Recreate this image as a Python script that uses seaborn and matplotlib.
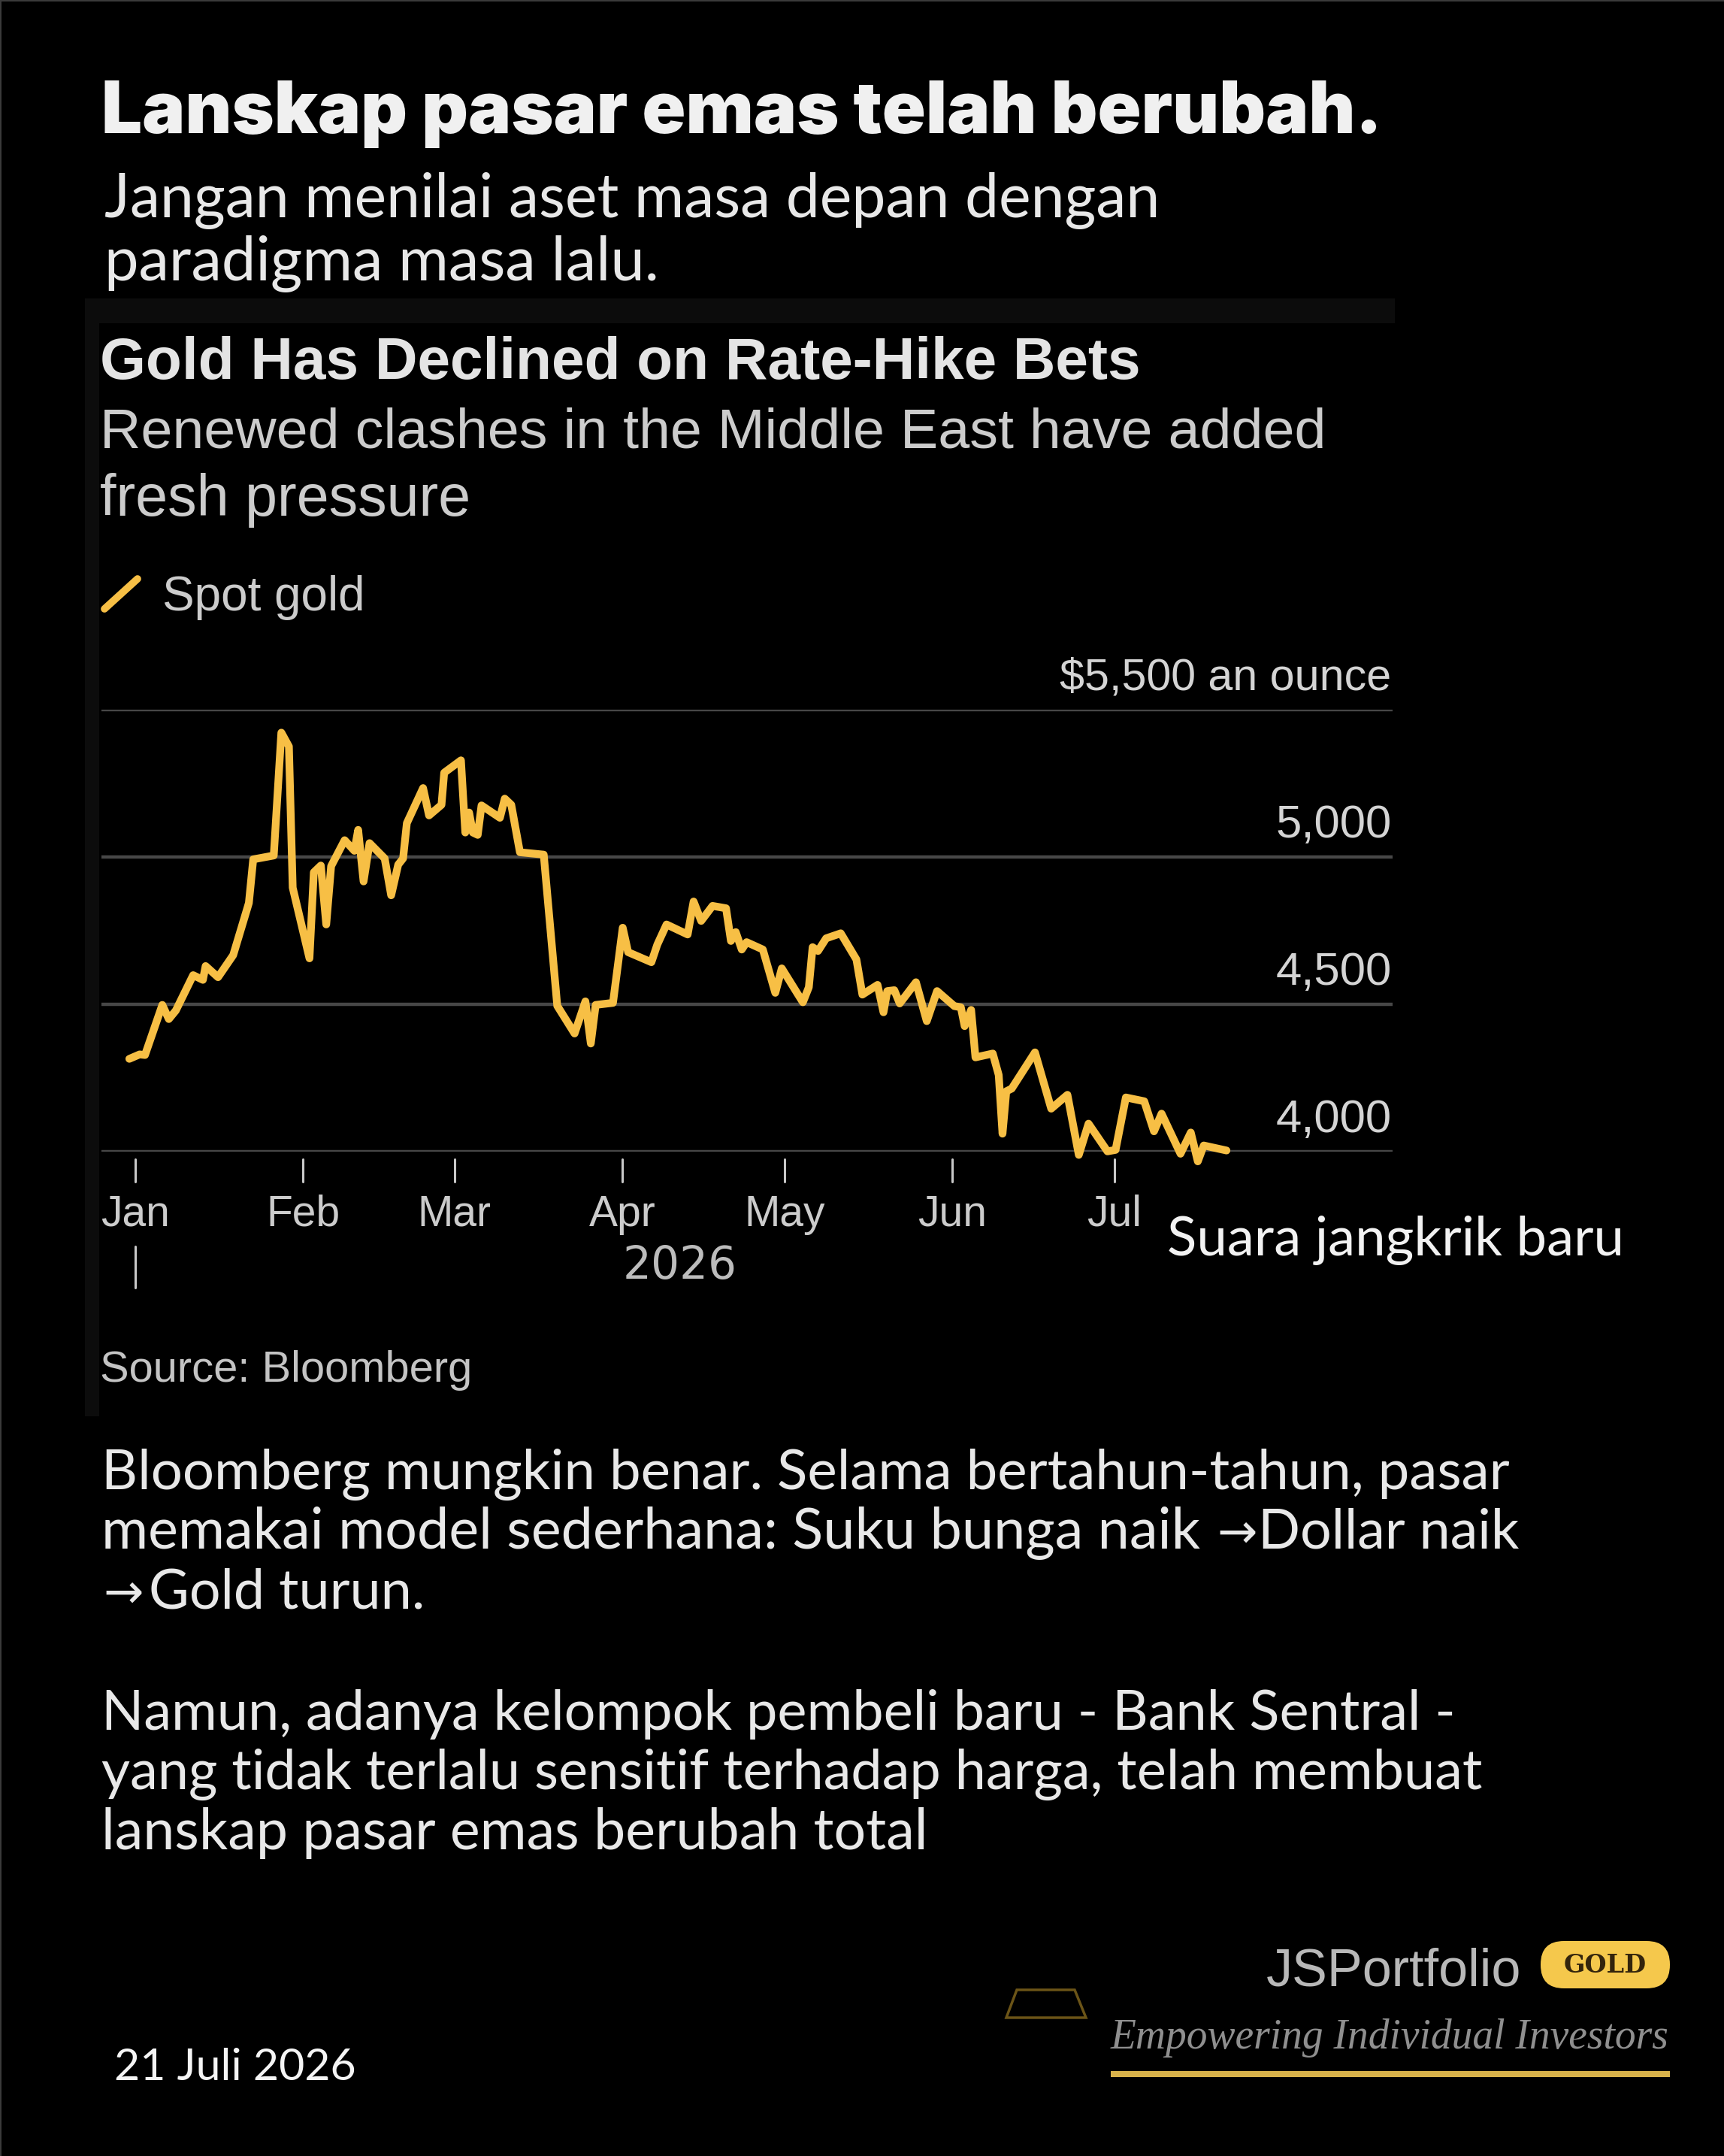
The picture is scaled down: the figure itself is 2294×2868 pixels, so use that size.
# Gold chart card: Lanskap pasar emas
import pandas as pd
import matplotlib.pyplot as plt
from matplotlib.lines import Line2D
from matplotlib.patches import FancyBboxPatch, Polygon, Rectangle
from matplotlib.transforms import blended_transform_factory
import seaborn as sns

W, H = 2294, 2868

# data: days since 1 Jan 2026, spot gold in USD
days = [
    -1.1, 0.8, 1.8, 5, 6.2, 7.5, 10.7, 12.5, 13, 15.3, 18.1, 21, 21.8, 25.6, 27, 28.4, 29.1,
    32.2, 33, 34.3, 35.3, 36.2, 38.7, 40.5, 41.2, 42.2, 43.3, 46.1, 47.3, 48.6, 49.5, 50.2,
    53.2, 54.3, 56.6, 57.1, 60.2, 61, 61.7, 62.4, 63.3, 64, 67.4, 68.3, 69.5, 71.1, 75.5,
    78, 81.2, 83.2, 84.2, 85.1, 88.3, 90.1, 91.1, 95.4, 96.5, 98.2, 102.1, 103.2, 104.6,
    106.7, 109.2, 110.1, 111, 112.1, 113, 116, 118.3, 119.5, 123.4, 124.5, 125.2, 126.2,
    127.7, 130.4, 133.3, 134.4, 137.2, 138.3, 139, 140.3, 141.3, 144.3, 146.3, 148.2, 151.4,
    152.6, 153.3, 154.5, 155.3, 158.5, 159.6, 160.3, 161, 162, 166.3, 169.3, 172.3, 174.4,
    176.2, 179.7, 181.2, 183.1, 186.5, 188.3, 189.7, 193.2, 195.1, 196.4, 197.5, 201.7,
]
spot_gold = [
    4315, 4330, 4328, 4498, 4450, 4479, 4599, 4583, 4630, 4592, 4667, 4844, 4992, 5005, 5422, 5375, 4896,
    4656, 4948, 4971, 4771, 4969, 5057, 5021, 5092, 4917, 5047, 4995, 4870, 4974, 4995, 5115,
    5234, 5141, 5177, 5286, 5328, 5083, 5151, 5083, 5075, 5175, 5133, 5198, 5177, 5016, 5008,
    4495, 4401, 4510, 4367, 4498, 4505, 4760, 4677, 4643, 4703, 4771, 4737, 4849, 4783,
    4834, 4826, 4715, 4745, 4686, 4711, 4686, 4539, 4622, 4507, 4558, 4694, 4681,
    4724, 4741, 4652, 4533, 4566, 4473, 4545, 4548, 4503, 4575, 4443, 4545, 4494,
    4490, 4426, 4481, 4320, 4333, 4260, 4061, 4205, 4214, 4337, 4146, 4193, 3989,
    4095, 4001, 4006, 4184, 4171, 4069, 4129, 3993, 4065, 3967, 4021, 4004,
]
month_labels = ["Jan", "Feb", "Mar", "Apr", "May", "Jun", "Jul"]
month_starts = ["2026-01-01", "2026-02-01", "2026-03-01", "2026-04-01", "2026-05-01", "2026-06-01", "2026-07-01"]
price_ticks = [4000, 4500, 5000, 5500]
price_labels = ["4,000", "4,500", "5,000", "$5,500 an ounce"]

GOLD = "#f7bf45"
GRID = "#474747"
TICK = "#c8c8c8"
TEXT = "#e8e8e8"
SANS = ["Liberation Sans", "DejaVu Sans"]
BODY = ["Lato", "DejaVu Sans"]

sns.set_theme(style="dark", rc={"axes.facecolor": "black", "figure.facecolor": "black"})
plt.rcParams["font.family"] = BODY

fig = plt.figure(figsize=(W / 100, H / 100), dpi=100, facecolor="black")


def put(x, y, s, **kw):
    # x, y are pixels from the top left, y is the baseline
    return fig.text(x / W, 1 - y / H, s, va=kw.pop("va", "baseline"), **kw)


def box(x0, y0, x1, y1, color):
    # zorder below the axes so the chart stays on top
    fig.add_artist(Rectangle((x0 / W, 1 - y1 / H), (x1 - x0) / W, (y1 - y0) / H,
                             transform=fig.transFigure, color=color, lw=0, zorder=-1))


def arrow(x, y):
    # the source arrow is short, Lato's is too long
    put(x, y - 1, "→", color=TEXT, fontsize=46, family=["DejaVu Sans"])


# thin grey frame of the card
box(0, 0, W, H, "#3a3a3a")
box(2, 2, W, H, "black")

# panel behind the screenshot
box(113, 397, 1856, 1884, "#0c0c0c")
box(132, 430, 1856, 1884, "black")

# header
put(135, 177, "Lanskap pasar emas telah berubah.", color="#f0f0f0", fontsize=69, fontweight=900, family=["Inter", "DejaVu Sans"])
put(139, 289, "Jangan menilai aset masa depan dengan", color=TEXT, fontsize=58)
put(139, 373, "paradigma masa lalu.", color=TEXT, fontsize=58.5)

# Bloomberg titles
put(133, 504, "Gold Has Declined on Rate-Hike Bets", color="#e4e4e4", fontsize=56.4, fontweight="bold", family=SANS)
put(133, 596, "Renewed clashes in the Middle East have added", color="#cccccc", fontsize=54.3, family=SANS)
put(133, 686, "fresh pressure", color="#cccccc", fontsize=55.5, family=SANS)

# legend
fig.add_artist(Line2D([139 / W, 183 / W], [1 - 810 / H, 1 - 770 / H], color=GOLD, lw=7, transform=fig.transFigure))
put(216, 812, "Spot gold", color="#cccccc", fontsize=46, family=SANS)

# chart
df = pd.DataFrame({"date": pd.Timestamp("2026-01-01") + pd.to_timedelta(days, unit="D"), "price": spot_gold})

ax = fig.add_axes([135 / W, 1 - 1532 / H, (1853 - 135) / W, (1532 - 944) / H])
sns.lineplot(data=df, x="date", y="price", color=GOLD, linewidth=7.4, ax=ax, zorder=3, clip_on=False)
ax.lines[0].set_solid_joinstyle("round")

jan1 = pd.Timestamp("2026-01-01")
ax.set_xlim(jan1 + pd.Timedelta(days=-6.25), jan1 + pd.Timedelta(days=232.4))
ax.set_ylim(4000, 5500)
ax.set_xlabel("")
ax.set_ylabel("")
ax.set_facecolor("none")
for s in ax.spines.values():
    s.set_visible(False)

ax.set_yticks(price_ticks)
ax.set_yticklabels([])
ax.tick_params(axis="y", length=0)
ax.grid(axis="y", color=GRID, linewidth=3.2)
ax.grid(axis="x", visible=False)

month_dates = pd.to_datetime(month_starts)
ax.set_xticks(month_dates)
ax.set_xticklabels(month_labels, fontsize=41, color="#cccccc", family=SANS)
ax.tick_params(axis="x", length=0, pad=41)

for v, lab in zip(price_ticks, price_labels):
    ax.annotate(lab, (1, v), xycoords=("axes fraction", "data"), xytext=(-1, 19), textcoords="offset points",
                ha="right", va="baseline", fontsize=42.6 if v == 5500 else 44.5, color="#d4d4d4", family=SANS)

# month ticks sit a little below the axis, the long one marks the year
trans = blended_transform_factory(ax.transData, fig.transFigure)
for d in month_dates:
    ax.plot([d, d], [1 - 1542 / H, 1 - 1572 / H], color=TICK, lw=2.2, transform=trans, clip_on=False)
ax.plot([jan1, jan1], [1 - 1658 / H, 1 - 1713 / H], color=TICK, lw=2.2, transform=trans, clip_on=False)

put(905, 1701, "2026", color="#bcbcbc", fontsize=43, ha="center", family=["DejaVu Sans"])
put(133, 1838, "Source: Bloomberg", color="#c4c4c4", fontsize=41.7, family=SANS)
put(1553, 1670, "Suara jangkrik baru", color="#f2f2f2", fontsize=52.2)

# body text
put(135, 1981, "Bloomberg mungkin benar. Selama bertahun-tahun, pasar", color=TEXT, fontsize=53.6)
put(135, 2060, "memakai model sederhana: Suku bunga naik", color=TEXT, fontsize=54.4)
arrow(1619, 2060)
put(1674, 2060, "Dollar naik", color=TEXT, fontsize=53)
arrow(137, 2140)
put(198, 2140, "Gold turun.", color=TEXT, fontsize=53)
put(135, 2301, "Namun, adanya kelompok pembeli baru - Bank Sentral -", color=TEXT, fontsize=53.2)
put(135, 2380, "yang tidak terlalu sensitif terhadap harga, telah membuat", color=TEXT, fontsize=53.2)
put(135, 2460, "lanskap pasar emas berubah total", color=TEXT, fontsize=54.3)

put(152, 2767, "21 Juli 2026", color="#f5f5f5", fontsize=42.5)

# logo block
put(1685, 2642, "JSPortfolio", color="#b8b8b8", fontsize=50.5, family=SANS)
pill = FancyBboxPatch((2081, H - 2614), 110, 1, boxstyle="round,pad=31", transform=None, color="#f5c84c", lw=0)
fig.add_artist(pill)
put(2136, 2624, "GOLD", color="#33240c", fontsize=24, fontweight="bold", ha="center", family=["DejaVu Serif"])
fig.add_artist(Polygon([(1353 / W, 1 - 2647 / H), (1430 / W, 1 - 2647 / H), (1445 / W, 1 - 2684 / H), (1339 / W, 1 - 2684 / H)],
                       closed=True, fill=False, edgecolor="#6b5417", lw=2.5, transform=fig.transFigure))
put(1478, 2725, "Empowering Individual Investors", color="#8f8f8f", fontsize=40, style="italic", family=["Liberation Serif"])
box(1478, 2755, 2222, 2763, "#d8b24a")

fig.savefig("out.png", dpi=100, facecolor="black")
